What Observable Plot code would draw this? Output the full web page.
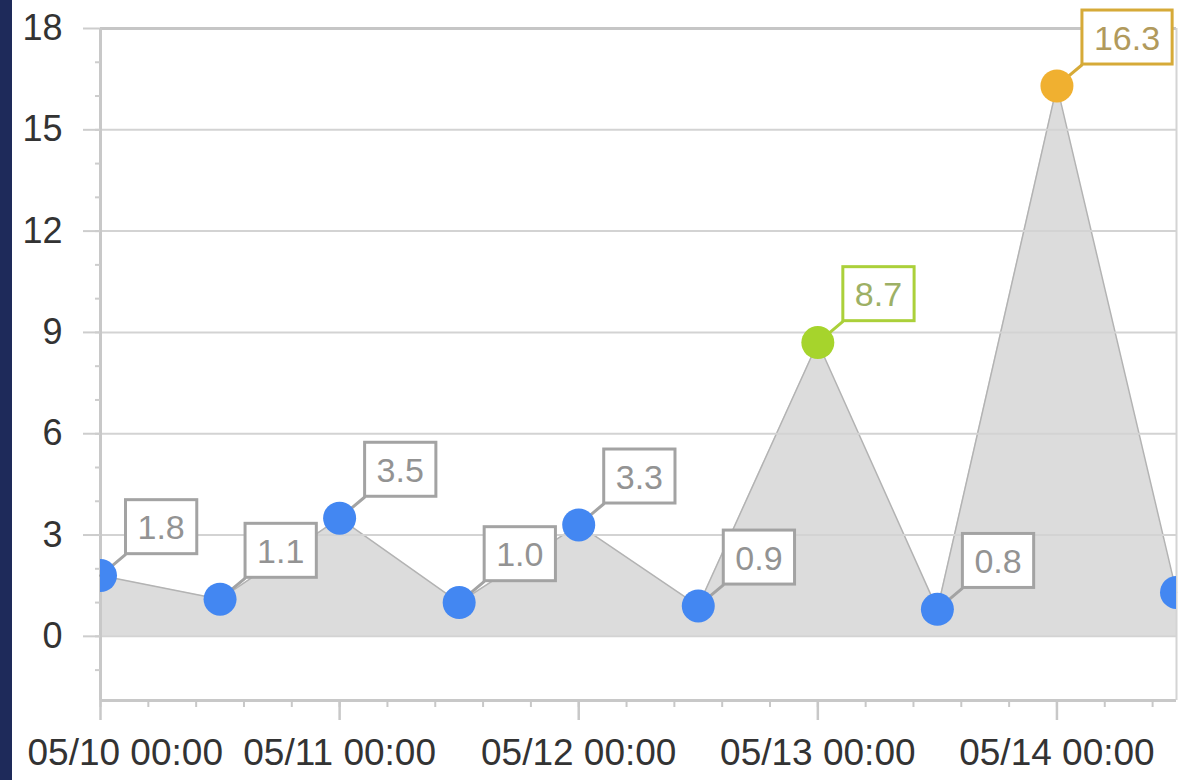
<!DOCTYPE html>
<html><head><meta charset="utf-8">
<script src="https://cdn.jsdelivr.net/npm/d3@7"></script>
<script src="https://cdn.jsdelivr.net/npm/@observablehq/plot@0.6"></script>
<style>
html,body{margin:0;padding:0;background:#fff;}
#wrap{position:relative;width:1178px;height:780px;overflow:hidden;background:#fff;}
#strip{position:absolute;left:0;top:0;width:12px;height:780px;background:#1e2a5a;z-index:2;}
#chart{position:absolute;left:0;top:0;}
</style></head><body>
<div id="wrap"><div id="strip"></div><div id="chart"></div></div>
<script>
// ---- data ----
const times = ["2024-05-10T00:00Z","2024-05-10T12:00Z","2024-05-11T00:00Z","2024-05-11T12:00Z","2024-05-12T00:00Z",
               "2024-05-12T12:00Z","2024-05-13T00:00Z","2024-05-13T12:00Z","2024-05-14T00:00Z","2024-05-14T12:00Z"];
const values = [1.8, 1.1, 3.5, 1.0, 3.3, 0.9, 8.7, 0.8, 16.3, 1.3];
const labels = ["1.8","1.1","3.5","1.0","3.3","0.9","8.7","0.8","16.3",""];
const levels = ["normal","normal","normal","normal","normal","normal","warning","normal","critical","normal"];
const yTicks = [0, 3, 6, 9, 12, 15, 18];
const xStart = "2024-05-10T00:00Z";
const xEnd = "2024-05-14T12:00Z";
const yDomain = [-1.9, 18];

// ---- styles ----
const dotColor = {normal:"#4387f2", warning:"#a6d42c", critical:"#f0b030"};
const boxColor = {normal:"#a3a3a3", warning:"#abd03a", critical:"#d6aa38"};
const txtColor = {normal:"#939393", warning:"#9db065", critical:"#b19a5c"};

const data = times.map((t,i)=>({date:new Date(t), value:values[i], label:labels[i], level:levels[i]}));
const labeled = data.filter(d => d.label);
const xDomain = [new Date(xStart), new Date(xEnd)];
const majorX = d3.utcDay.range(xDomain[0], xDomain[1]);
const minorX = d3.range(0, (xDomain[1]-xDomain[0])/3600e3 + 1e-9, 4.8).map(h => new Date(+xDomain[0] + h*3600e3));
const minorY = d3.range(Math.ceil(yDomain[0]), yDomain[1], 1);
const fmt = d3.utcFormat("%m/%d %H:%M");

const connector = { draw(context, l) { context.moveTo(0, 0); context.lineTo(0, -l); } };

const plot = Plot.plot({
  width: 1178, height: 780,
  marginLeft: 100, marginRight: 2, marginTop: 28, marginBottom: 80,
  style: {fontFamily: "'Liberation Sans', Arial, sans-serif", background: "transparent", overflow: "visible"},
  x: {type: "utc", domain: xDomain},
  y: {domain: yDomain},
  color: {type: "identity"},
  marks: [
    Plot.areaY(data, {x: "date", y: "value", curve: "linear", fill: "#dcdcdc"}),
    Plot.lineY(data, {x: "date", y: "value", curve: "linear", stroke: "#b3b3b3", strokeWidth: 1.5}),
    Plot.ruleY(yTicks, {stroke: "#d3d3d3", strokeWidth: 2}),
    Plot.ruleY([yDomain[1]], {stroke: "#c6c6c6", strokeWidth: 3}),
    Plot.ruleY([yDomain[0]], {stroke: "#c8c8c8", strokeWidth: 3}),
    Plot.ruleX([xDomain[0]], {stroke: "#c8c8c8", strokeWidth: 3}),
    Plot.ruleX([xDomain[1]], {stroke: "#d4d4d4", strokeWidth: 2}),
    Plot.axisY(yTicks, {tickSize: 17, tickPadding: 21, stroke: "#cdcdcd", strokeWidth: 2, fontSize: 36, fill: "#333", label: null}),
    Plot.axisY(minorY, {tickSize: 5, stroke: "#cdcdcd", strokeWidth: 2, fill: "none", label: null, tickFormat: () => ""}),
    Plot.axisX(majorX, {tickSize: 20, stroke: "#c8c8c8", strokeWidth: 2.5, fill: "none", label: null, tickFormat: () => ""}),
    Plot.axisX(minorX, {tickSize: 7, stroke: "#c8c8c8", strokeWidth: 2, fill: "none", label: null, tickFormat: () => ""}),
    Plot.axisX(majorX.slice(0, 1), {tickSize: 0, tickPadding: 38, tickFormat: fmt, fontSize: 37, fill: "#333", textAnchor: "start", dx: -73, label: null}),
    Plot.axisX(majorX.slice(1), {tickSize: 0, tickPadding: 38, tickFormat: fmt, fontSize: 37, fill: "#333", label: null}),
    Plot.vector(labeled, {x: "date", y: "value", length: 32.5, rotate: 50, anchor: "start", shape: connector,
      stroke: d => boxColor[d.level], strokeWidth: 3}),
    Plot.dot(data, {x: "date", y: "value", r: 16.5, fill: d => dotColor[d.level], clip: true}),
    Plot.text(labeled, {x: "date", y: "value", text: "label", dx: 37, dy: -47, textAnchor: "start", lineAnchor: "middle",
      fontSize: 34, fill: d => txtColor[d.level]})
  ]
});
document.getElementById("chart").append(plot);

// boxes around value labels (sized from the rendered text)
const NS = "http://www.w3.org/2000/svg";
const used = new Set();
const allTexts = Array.from(plot.querySelectorAll("text"));
labeled.forEach(d => {
  const t = allTexts.find(e => !used.has(e) && e.textContent === d.label);
  if (!t) return;
  used.add(t);
  const b = t.getBBox();
  const cy = b.y + b.height * 0.48;
  const r = document.createElementNS(NS, "rect");
  r.setAttribute("x", b.x - 12);
  r.setAttribute("y", cy - 27);
  r.setAttribute("width", b.width + 24);
  r.setAttribute("height", 54);
  r.setAttribute("fill", "#fff");
  r.setAttribute("stroke", boxColor[d.level]);
  r.setAttribute("stroke-width", 3);
  const tr = t.getAttribute("transform");
  if (tr) r.setAttribute("transform", tr);
  t.parentNode.insertBefore(r, t);
});
</script>
</body></html>
